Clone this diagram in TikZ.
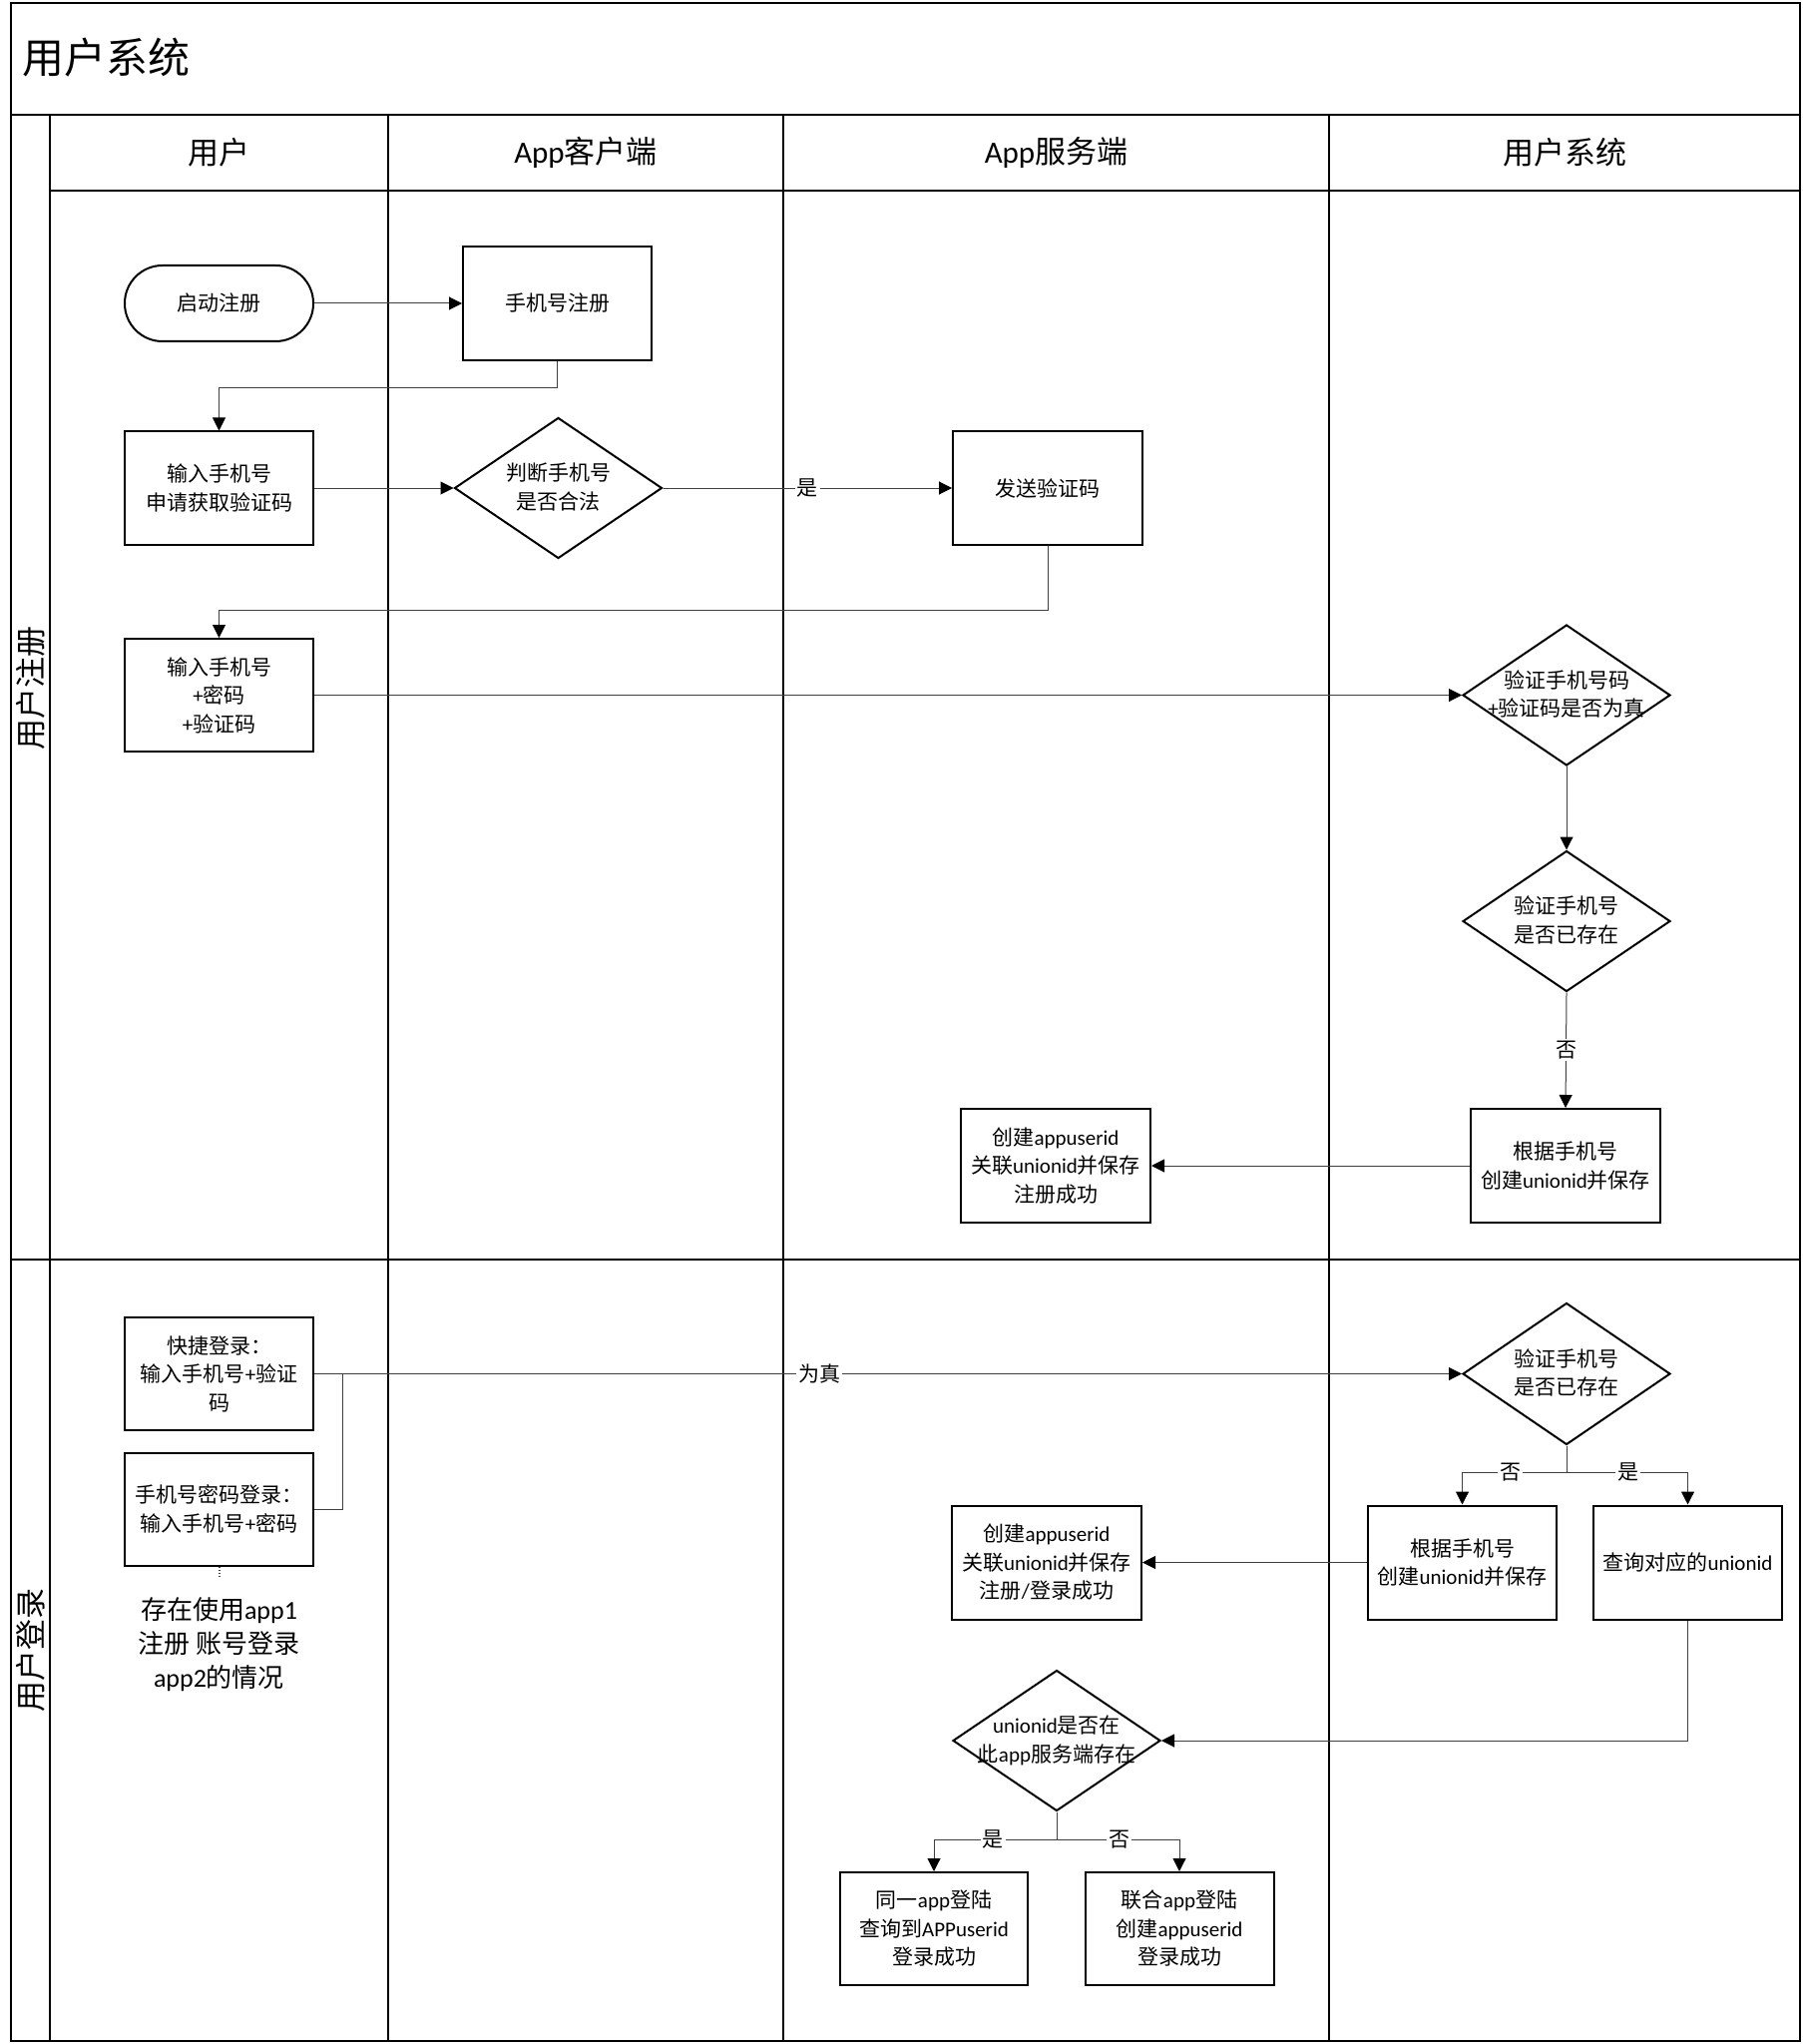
\documentclass[tikz,border=0pt]{standalone}
\usepackage{fontspec}
\setmainfont{Carlito}
\newfontfamily\cjkfont{Noto Sans CJK SC}
\usetikzlibrary{shapes.geometric,arrows.meta}
\makeatletter
\count@="4E00
\loop\XeTeXcharclass\count@=7 \advance\count@ 1 \ifnum\count@<"A000 \repeat
\count@="3000
\loop\XeTeXcharclass\count@=7 \advance\count@ 1 \ifnum\count@<"3040 \repeat
\count@="FF00
\loop\XeTeXcharclass\count@=7 \advance\count@ 1 \ifnum\count@<"FFF0 \repeat
\makeatother
\XeTeXinterchartoks 0 7 = {\cjkfont}
\XeTeXinterchartoks 4095 7 = {\cjkfont}
\XeTeXinterchartoks 7 0 = {\rmfamily}
\XeTeXinterchartoks 7 4095 = {\rmfamily}
\XeTeXinterchartokenstate=1
\newcommand\nodefont{\fontsize{10.5pt}{14.25pt}\selectfont}
\newcommand\titlefont{\fontsize{21pt}{25pt}\selectfont}
\newcommand\headfont{\fontsize{15.5pt}{18pt}\selectfont}
\newcommand\lanefont{\fontsize{15.5pt}{18pt}\selectfont}
\newcommand\notefont{\fontsize{13pt}{17pt}\selectfont}
\newcommand\dtext[1]{\smash{\makebox[0pt]{\raisebox{-3.5pt}{\begin{tabular}{@{}c@{}}#1\end{tabular}}}}}
\tikzset{
  lane/.style={line width=1pt, draw=black},
  box/.style={draw, line width=1pt, rectangle, minimum width=94.5pt, minimum height=56.5pt, align=center, inner sep=1pt, font=\nodefont},
  startbox/.style={box, rounded corners=18.9pt, minimum height=38pt},
  decision/.style={draw, line width=1pt, diamond, minimum width=104pt, minimum height=70.5pt, inner sep=0pt, font=\nodefont},
  conn/.style={draw=black!75, line width=0.5pt},
  arr/.style={conn, -{Triangle[length=6.5pt,width=6.5pt,black]}},
  lbl/.style={fill=white, inner sep=1pt, font=\nodefont},
}
\begin{document}
\begin{tikzpicture}[x=0.5pt,y=-0.5pt]
\useasboundingbox (0,0) rectangle (1807,2048);
% swimlane frame
\draw[lane] (11,3) rectangle (1804,2045);
\draw[lane] (11,115) -- (1804,115);
\draw[lane] (50,115) -- (50,2045);
\draw[lane] (50,191) -- (1804,191);
\draw[lane] (389,115) -- (389,2045);
\draw[lane] (785,115) -- (785,2045);
\draw[lane] (1332,115) -- (1332,2045);
\draw[lane] (11,1262) -- (1804,1262);
% titles
\node[font=\titlefont, anchor=west] (title) at (15,58) {用户系统};
\node[font=\headfont] (h1) at (219.5,153) {用户};
\node[font=\headfont] (h2) at (587,153) {App客户端};
\node[font=\headfont] (h3) at (1058.5,153) {App服务端};
\node[font=\headfont] (h4) at (1568,153) {用户系统};
\node[font=\lanefont, rotate=90] (l1) at (31,689) {用户注册};
\node[font=\lanefont, rotate=90] (l2) at (31,1653) {用户登录};
% registration
\node[startbox] (start) at (219.5,304) {启动注册};
\node[box, minimum height=57pt] (reg) at (558.5,304) {手机号注册};
\node[box] (input1) at (219.5,489) {输入手机号\\申请获取验证码};
\node[decision] (judge) at (559.5,489) {\dtext{判断手机号\\是否合法}};
\node[box, minimum width=95pt] (send) at (1050,489) {发送验证码};
\node[box] (input2) at (219.5,696.5) {输入手机号\\+密码\\+验证码};
\node[decision] (verify1) at (1570,696.5) {\dtext{验证手机号码\\+验证码是否为真}};
\node[decision] (exist1) at (1570,923) {\dtext{验证手机号\\是否已存在}};
\node[box, minimum width=95pt, minimum height=57pt] (create1) at (1569,1168) {根据手机号\\创建unionid并保存};
\node[box, minimum width=95pt, minimum height=57pt] (appuser1) at (1058,1168) {创建appuserid\\关联unionid并保存\\注册成功};
% login
\node[box] (quick) at (219.5,1376.5) {快捷登录：\\输入手机号+验证\\码};
\node[box] (pwd) at (219.5,1512) {手机号密码登录：\\输入手机号+密码};
\node[font=\notefont, align=center] (note) at (219.5,1648) {存在使用app1\\注册 账号登录\\app2的情况};
\node[decision, minimum height=71pt] (exist2) at (1570,1376.5) {\dtext{验证手机号\\是否已存在}};
\node[box, minimum height=57pt] (create2) at (1465.5,1565.5) {根据手机号\\创建unionid并保存};
\node[box, minimum height=57pt] (query) at (1691.5,1565.5) {查询对应的unionid};
\node[box, minimum width=95pt, minimum height=57pt] (appuser2) at (1049,1565.5) {创建appuserid\\关联unionid并保存\\注册/登录成功};
\node[decision] (inapp) at (1059,1744) {\dtext{unionid是否在\\此app服务端存在}};
\node[box, minimum width=94pt] (same) at (936,1932.5) {同一app登陆\\查询到APPuserid\\登录成功};
\node[box] (union) at (1182,1932.5) {联合app登陆\\创建appuserid\\登录成功};
% coordinates
\coordinate (j1) at (343,1376.5);
\coordinate (b1) at (1570,1475);
\coordinate (b2) at (1059,1843);
\coordinate (dotend) at (219.5,1581);
% connectors registration
\draw[arr] (start.east) -- (reg.west);
\draw[arr] (reg.south) -- (reg.south |- 0,389) -| (input1.north);
\draw[arr] (input1.east) -- (judge.west);
\draw[arr] (judge.east) -- node[lbl] (yes1) {是} (send.west);
\draw[arr] (send.south) -- (send.south |- 0,611) -| (input2.north);
\draw[arr] (input2.east) -- (verify1.west);
\draw[arr] (verify1.south) -- (exist1.north);
\draw[arr] (exist1.south) -- node[lbl] (no1) {否} (create1.north);
\draw[arr] (create1.west) -- (appuser1.east);
% connectors login
\draw[arr] (quick.east) -- node[lbl, pos=0.44] (true1) {为真} (exist2.west);
\draw[conn] (pwd.east) -| (j1);
\draw[conn, densely dotted, line width=1pt] (pwd.south) -- (dotend);
\draw[conn] (exist2.south) -- (b1);
\draw[arr] (b1) -| node[lbl, pos=0.27] (no2) {否} (create2.north);
\draw[arr] (b1) -| node[lbl, pos=0.255] (yes2) {是} (query.north);
\draw[arr] (create2.west) -- (appuser2.east);
\draw[arr] (query.south) |- (inapp.east);
\draw[conn] (inapp.south) -- (b2);
\draw[arr] (b2) -| node[lbl, pos=0.26] (yes3) {是} (same.north);
\draw[arr] (b2) -| node[lbl, pos=0.255] (no3) {否} (union.north);
\end{tikzpicture}
\end{document}
